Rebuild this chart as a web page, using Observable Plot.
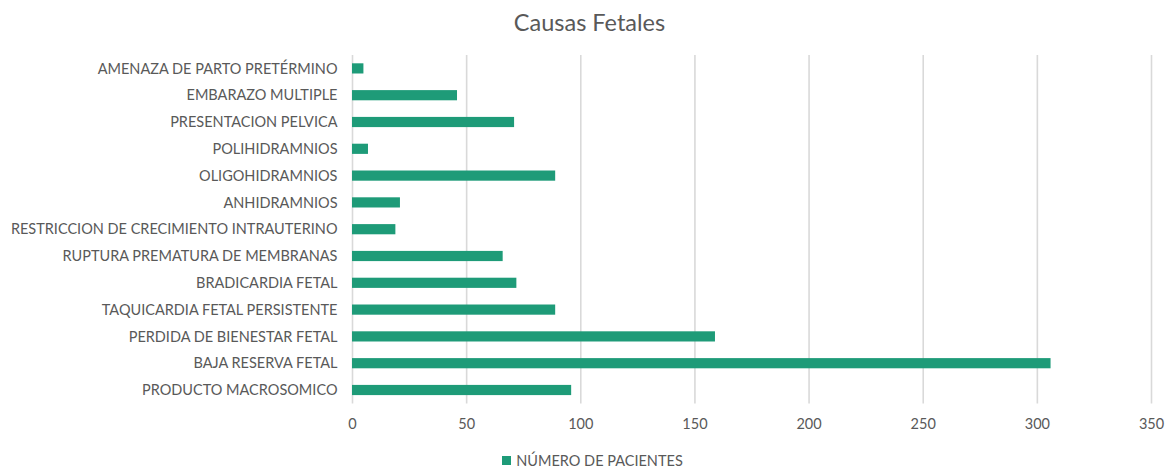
<!DOCTYPE html>
<html>
<head>
<meta charset="utf-8">
<script src="https://cdn.jsdelivr.net/npm/d3@7"></script>
<script src="https://cdn.jsdelivr.net/npm/@observablehq/plot@0.6"></script>
<style>
  body { margin: 0; background: #fff; font-family: Lato, "Open Sans", sans-serif; color: #595959; }
  #wrap { width: 1173px; height: 470px; position: relative; }
  #title { height: 40px; line-height: 44px; text-align: center; font-size: 23.5px; color: #595959; padding-left: 6px; }
  #chart svg { display: block; }
  #legend { display: flex; justify-content: center; align-items: center; font-size: 14.5px; color: #595959; margin-top: 12px; padding-left: 12px; }
  #legend .sw { width: 9px; height: 9px; background: #1e9b78; margin-right: 5px; }
</style>
</head>
<body>
<div id="wrap">
  <div id="title">Causas Fetales</div>
  <div id="chart"></div>
  <div id="legend"><span class="sw"></span><span>NÚMERO DE PACIENTES</span></div>
</div>
<script>
const categories = [
  "AMENAZA DE PARTO PRETÉRMINO",
  "EMBARAZO MULTIPLE",
  "PRESENTACION PELVICA",
  "POLIHIDRAMNIOS",
  "OLIGOHIDRAMNIOS",
  "ANHIDRAMNIOS",
  "RESTRICCION DE CRECIMIENTO INTRAUTERINO",
  "RUPTURA PREMATURA DE MEMBRANAS",
  "BRADICARDIA FETAL",
  "TAQUICARDIA FETAL PERSISTENTE",
  "PERDIDA DE BIENESTAR FETAL",
  "BAJA RESERVA FETAL",
  "PRODUCTO MACROSOMICO"
];
const pacientes = [5, 46, 71, 7, 89, 21, 19, 66, 72, 89, 159, 306, 96];
const xTicks = [0, 50, 100, 150, 200, 250, 300, 350];
const seriesName = "NÚMERO DE PACIENTES";

const data = categories.map((c, i) => ({causa: c, valor: pacientes[i]}));

const chart = Plot.plot({
  width: 1173,
  height: 400,
  marginLeft: 352,
  marginRight: 22,
  marginTop: 15,
  marginBottom: 36.6,
  style: {fontFamily: "Lato, 'Open Sans', sans-serif", fontSize: "14.5px", color: "#595959", background: "#fff"},
  x: {domain: [0, 350], ticks: xTicks, label: null},
  y: {domain: categories, padding: 0.62, paddingOuter: 0.31, round: false, label: null},
  marks: [
    Plot.gridX(xTicks, {stroke: "#d9d9d9", strokeWidth: 1.6, strokeOpacity: 1}),
    Plot.barX(data, {x: "valor", y: "causa", fill: "#1e9b78"}),
    Plot.axisX({ticks: xTicks, tickSize: 0, tickPadding: 15, fill: "#595959", label: null}),
    Plot.axisY({tickSize: 0, tickPadding: 15, fill: "#595959", label: null})
  ]
});
document.getElementById("chart").appendChild(chart);
</script>
</body>
</html>
